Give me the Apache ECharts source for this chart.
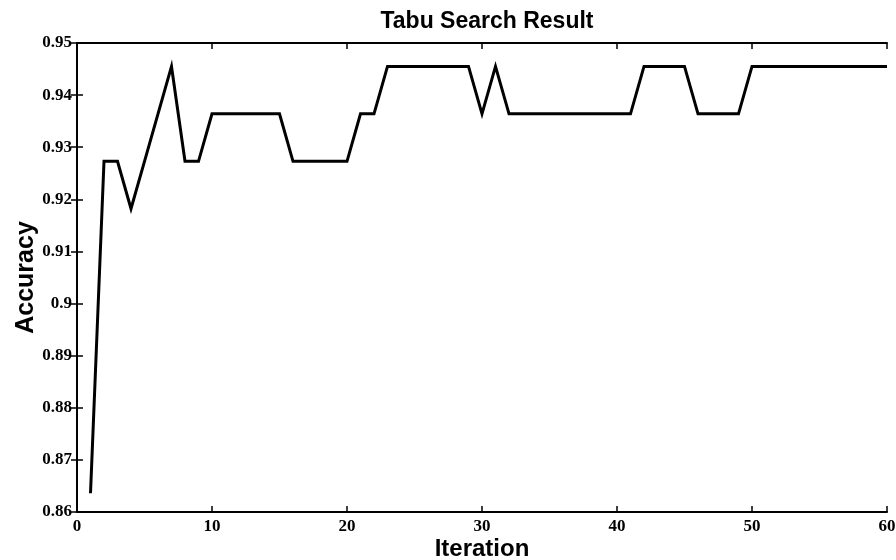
<!DOCTYPE html>
<html><head><meta charset="utf-8">
<script src="https://cdn.jsdelivr.net/npm/echarts@6/dist/echarts.min.js"></script>
<style>html,body{margin:0;padding:0;background:#fff}#c{width:896px;height:560px}</style>
</head><body><div id="c"></div>
<script>
const iterations = [1,2,3,4,5,6,7,8,9,10,11,12,13,14,15,16,17,18,19,20,21,22,23,24,25,26,27,28,29,30,31,32,33,34,35,36,37,38,39,40,41,42,43,44,45,46,47,48,49,50,51,52,53,54,55,56,57,58,59,60];
const accuracy = [0.8636,0.9273,0.9273,0.9182,0.9273,0.9364,0.9455,0.9273,0.9273,0.9364,
0.9364,0.9364,0.9364,0.9364,0.9364,0.9273,0.9273,0.9273,0.9273,0.9273,
0.9364,0.9364,0.9455,0.9455,0.9455,0.9455,0.9455,0.9455,0.9455,0.9364,
0.9455,0.9364,0.9364,0.9364,0.9364,0.9364,0.9364,0.9364,0.9364,0.9364,
0.9364,0.9455,0.9455,0.9455,0.9455,0.9364,0.9364,0.9364,0.9364,0.9455,
0.9455,0.9455,0.9455,0.9455,0.9455,0.9455,0.9455,0.9455,0.9455,0.9455];
const xTicks = [0,10,20,30,40,50,60];
const yTicks = [0.86,0.87,0.88,0.89,0.9,0.91,0.92,0.93,0.94,0.95];

const chart = echarts.init(document.getElementById('c'), null, {renderer:'canvas'});
const axisLine = {show:true, lineStyle:{color:'#000', width:2}};
const tickStyle = {show:true, inside:true, length:6, lineStyle:{color:'#000', width:1.5}};
const tickFont = {fontFamily:'Liberation Serif', fontWeight:'bold', fontSize:17, color:'#000'};
chart.setOption({
  animation:false,
  backgroundColor:'#fff',
  title:{text:'Tabu Search Result', left:482, top:5, textAlign:'center',
    textStyle:{fontFamily:'Liberation Sans', fontWeight:'bold', fontSize:23, color:'#000'}},
  grid:{left:77, right:9, top:43, bottom:48, containLabel:false, outerBoundsMode:'none'},
  xAxis:[{type:'value', min:0, max:60, interval:10, position:'bottom',
    name:'Iteration', nameLocation:'middle', nameGap:25, nameMoveOverlap:false,
    nameTextStyle:{fontFamily:'Liberation Sans', fontWeight:'bold', fontSize:24, color:'#000'},
    axisLine:axisLine, axisTick:tickStyle,
    axisLabel:Object.assign({margin:6, formatter:v=>xTicks.includes(v)?String(v):''}, tickFont),
    splitLine:{show:false}},
   {type:'value', min:0, max:60, interval:10, position:'top',
    axisLine:axisLine, axisTick:tickStyle,
    axisLabel:{show:false}, splitLine:{show:false}}],
  yAxis:[{type:'value', min:0.86, max:0.95, interval:0.01, position:'left',
    name:'Accuracy', nameLocation:'middle', nameGap:38, nameRotate:90, nameMoveOverlap:false,
    nameTextStyle:{fontFamily:'Liberation Sans', fontWeight:'bold', fontSize:25, color:'#000'},
    axisLine:axisLine, axisTick:tickStyle,
    axisLabel:Object.assign({margin:5, formatter:v=>{const r=Math.round(v*100)/100; return yTicks.includes(r)?String(r):'';}}, tickFont),
    splitLine:{show:false}},
   {type:'value', min:0.86, max:0.95, interval:0.01, position:'right',
    axisLine:axisLine, axisTick:tickStyle,
    axisLabel:{show:false}, splitLine:{show:false}}],
  series:[{type:'line', xAxisIndex:0, yAxisIndex:0,
    data:iterations.map((x,i)=>[x, accuracy[i]]),
    showSymbol:false, symbol:'none',
    lineStyle:{color:'#000', width:3, join:'miter'}}]
});
</script></body></html>
